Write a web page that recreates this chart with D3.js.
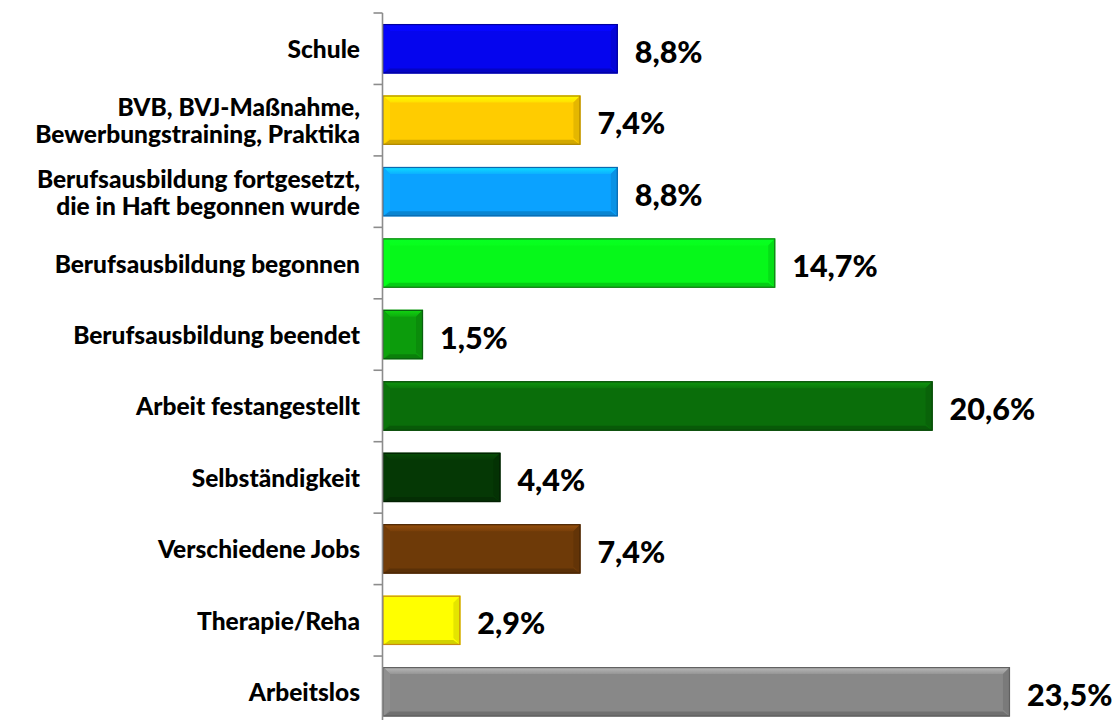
<!DOCTYPE html>
<html>
<head>
<meta charset="utf-8">
<script src="https://cdn.jsdelivr.net/npm/d3@7"></script>
<style>
  body { margin: 0; background: #fff; }
  svg { display: block; }
</style>
</head>
<body>
<div id="chart"></div>
<script>
const categories = [
  ["Schule"],
  ["BVB, BVJ-Maßnahme,", "Bewerbungstraining, Praktika"],
  ["Berufsausbildung fortgesetzt,", "die in Haft begonnen wurde"],
  ["Berufsausbildung begonnen"],
  ["Berufsausbildung beendet"],
  ["Arbeit festangestellt"],
  ["Selbständigkeit"],
  ["Verschiedene Jobs"],
  ["Therapie/Reha"],
  ["Arbeitslos"]
];
const values = [8.8, 7.4, 8.8, 14.7, 1.5, 20.6, 4.4, 7.4, 2.9, 23.5];
const colors = ["#0505ee", "#ffcc00", "#0ba2ff", "#06f81a", "#0c9c0c",
  "#0a6e0a", "#053805", "#6e3a08", "#ffff00", "#888888"];
const borders = ["#0000a0", "#b08800", "#0a6ab0", "#1a7a1a", "#0a6010",
  "#0a4a0a", "#022002", "#4a2605", "#c88a10", "#606060"];

const width = 1114, height = 720;
const axisX = 382.5;

const svg = d3.select("#chart").append("svg")
  .attr("width", width)
  .attr("height", height);

const keys = categories.map((d, i) => i);

const y = d3.scaleBand()
  .domain(keys)
  .range([13, 13 + 71.45 * keys.length])
  .paddingInner(0.31)
  .paddingOuter(0.155);

const x = d3.scaleLinear()
  .domain([0, 25])
  .range([axisX + 0.5, axisX + 0.5 + 25 * 26.68]);

const defs = svg.append("defs");

keys.forEach(i => {
  const c = d3.color(colors[i]);
  const g = defs.append("linearGradient")
    .attr("id", "top" + i)
    .attr("x1", 0).attr("y1", 0).attr("x2", 0).attr("y2", 1);
  g.append("stop").attr("offset", 0).attr("stop-color", c.brighter(0.9));
  g.append("stop").attr("offset", 1).attr("stop-color", c.brighter(0.25));
});

const bev = 7;

const bars = svg.append("g")
  .selectAll("g")
  .data(keys)
  .join("g");

bars.append("rect")
  .attr("x", x(0))
  .attr("y", i => y(i))
  .attr("width", i => x(values[i]) - x(0))
  .attr("height", y.bandwidth())
  .attr("fill", i => colors[i]);

// top bevel
bars.append("polygon")
  .attr("points", i => {
    const x0 = x(0), x1 = x(values[i]), y0 = y(i);
    const b = Math.min(bev, (x1 - x0) / 2);
    return [[x0, y0], [x1, y0], [x1 - b, y0 + bev], [x0 + b, y0 + bev]].join(" ");
  })
  .attr("fill", i => `url(#top${i})`);

// left bevel
bars.append("polygon")
  .attr("points", i => {
    const x0 = x(0), y0 = y(i), y1 = y0 + y.bandwidth();
    return [[x0, y0], [x0 + bev, y0 + bev], [x0 + bev, y1 - bev], [x0, y1]].join(" ");
  })
  .attr("fill", i => d3.color(colors[i]).brighter(0.15));

// right bevel
bars.append("polygon")
  .attr("points", i => {
    const x1 = x(values[i]), y0 = y(i), y1 = y0 + y.bandwidth();
    return [[x1, y0], [x1 - bev, y0 + bev], [x1 - bev, y1 - bev], [x1, y1]].join(" ");
  })
  .attr("fill", i => d3.color(colors[i]).darker(0.3));

// bottom bevel
bars.append("polygon")
  .attr("points", i => {
    const x0 = x(0), x1 = x(values[i]), y1 = y(i) + y.bandwidth();
    const b = Math.min(bev, (x1 - x0) / 2);
    return [[x0, y1], [x1, y1], [x1 - b, y1 - bev + 2], [x0 + b, y1 - bev + 2]].join(" ");
  })
  .attr("fill", i => d3.color(colors[i]).darker(0.55));

bars.append("rect")
  .attr("x", x(0))
  .attr("y", i => y(i) + 0.5)
  .attr("width", i => x(values[i]) - x(0) - 0.5)
  .attr("height", y.bandwidth() - 1)
  .attr("fill", "none")
  .attr("stroke", i => borders[i])
  .attr("stroke-width", 1.2);

// value labels
bars.append("text")
  .attr("x", i => x(values[i]) + 17)
  .attr("y", i => y(i) + y.bandwidth() / 2 + 2)
  .attr("dominant-baseline", "central")
  .attr("font-family", "Lato, sans-serif")
  .attr("font-weight", "900")
  .attr("font-size", 30.5)
  .attr("fill", "#000")
  .text(i => d3.format(".1f")(values[i]).replace(".", ",") + "%");

// axis
const axis = svg.append("g").attr("stroke", "#8c8c8c").attr("stroke-width", 1.6);
axis.append("line")
  .attr("x1", axisX).attr("x2", axisX)
  .attr("y1", y.range()[0]).attr("y2", height);
axis.selectAll(".tick")
  .data(keys)
  .join("line")
  .attr("x1", axisX - 9).attr("x2", axisX)
  .attr("y1", i => y(i) - y.step() * y.paddingInner() / 2)
  .attr("y2", i => y(i) - y.step() * y.paddingInner() / 2);

// category labels
const lineH = 27;
svg.append("g")
  .selectAll("text")
  .data(keys)
  .join("text")
  .attr("text-anchor", "end")
  .attr("font-family", "Lato, sans-serif")
  .attr("font-weight", "900")
  .attr("font-size", 24.5)
  .attr("fill", "#000")
  .each(function(i) {
    const lines = categories[i];
    const cy = y(i) + y.bandwidth() / 2;
    const t = d3.select(this);
    lines.forEach((s, k) => {
      t.append("tspan")
        .attr("x", 360)
        .attr("y", cy + (k - (lines.length - 1) / 2) * lineH)
        .attr("dominant-baseline", "central")
        .text(s);
    });
  });
</script>
</body>
</html>
